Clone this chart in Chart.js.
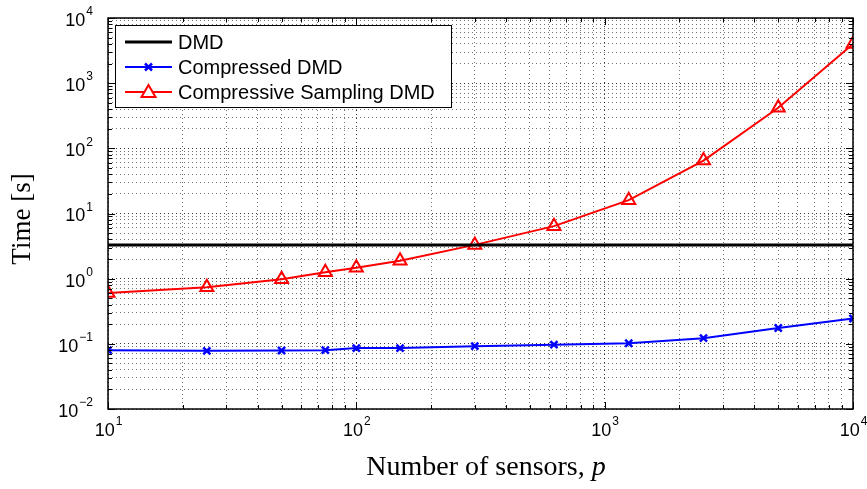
<!DOCTYPE html>
<html>
<head>
<meta charset="utf-8">
<script src="https://cdn.jsdelivr.net/npm/chart.js@4.4.0/dist/chart.umd.min.js"></script>
<style>
  html, body { margin: 0; padding: 0; background: #fff; }
  #wrap { width: 867px; height: 489px; }
</style>
</head>
<body>
<div id="wrap"><canvas id="chart"></canvas></div>
<script>
// data
const sensors = [10, 25, 50, 75, 100, 150, 300, 625, 1250, 2500, 5000, 10000];
const timeCompressed = [0.08, 0.078, 0.079, 0.08, 0.086, 0.086, 0.092, 0.097, 0.102, 0.122, 0.175, 0.245];
const timeCSDMD = [0.6, 0.74, 0.98, 1.25, 1.47, 1.88, 3.3, 6.4, 16, 65, 420, 4000];
const dmdTime = 3.3;
const xDecades = [1, 2, 3, 4];            // 10^1 .. 10^4
const yDecades = [-2, -1, 0, 1, 2, 3, 4]; // 10^-2 .. 10^4
const seriesLabels = ["DMD", "Compressed DMD", "Compressive Sampling DMD"];

function logTicks(decs) {
  var t = [];
  for (var i = 0; i < decs.length; i++) {
    var p = Math.pow(10, decs[i]);
    t.push({ value: p });
    if (i < decs.length - 1) {
      for (var m = 2; m <= 9; m++) t.push({ value: m * p });
    }
  }
  return t;
}
function isDecade(v) {
  var l = Math.log10(v);
  return Math.abs(l - Math.round(l)) < 1e-9;
}

const SANS = "'Liberation Sans', Arial, sans-serif";
const SERIF = "'Liberation Serif', 'Times New Roman', serif";

// draws "10" with raised exponent
function drawPow(ctx, exp, x, y, align) {
  ctx.font = "18px " + SANS;
  var wb = ctx.measureText("10").width;
  var es = String(exp).replace("-", "\u2212");
  ctx.font = "12px " + SANS;
  var we = ctx.measureText(es).width;
  var start = align === "right" ? x - wb - we - 1 : x - (wb + we) / 2;
  ctx.fillStyle = "#000";
  ctx.textBaseline = "middle";
  ctx.textAlign = "left";
  ctx.font = "18px " + SANS;
  ctx.fillText("10", start, y);
  ctx.font = "12px " + SANS;
  ctx.fillText(es, start + wb + 1, y - 9);
}

const matlabAxes = {
  id: "matlabAxes",
  afterDraw(chart) {
    const ctx = chart.ctx, a = chart.chartArea;
    const xs = chart.scales.x, ys = chart.scales.y;
    ctx.save();
    // box
    ctx.strokeStyle = "#000";
    ctx.lineWidth = 1.5;
    ctx.setLineDash([]);
    ctx.strokeRect(a.left, a.top, a.right - a.left, a.bottom - a.top);
    // inner tick marks
    ctx.lineWidth = 1;
    xs.ticks.forEach(function (t) {
      var px = Math.round(xs.getPixelForValue(t.value)) + 0.5;
      var len = isDecade(t.value) ? 7 : 4;
      ctx.beginPath();
      ctx.moveTo(px, a.bottom); ctx.lineTo(px, a.bottom - len);
      ctx.moveTo(px, a.top); ctx.lineTo(px, a.top + len);
      ctx.stroke();
    });
    ys.ticks.forEach(function (t) {
      var py = Math.round(ys.getPixelForValue(t.value)) + 0.5;
      var len = isDecade(t.value) ? 7 : 4;
      ctx.beginPath();
      ctx.moveTo(a.left, py); ctx.lineTo(a.left + len, py);
      ctx.moveTo(a.right, py); ctx.lineTo(a.right - len, py);
      ctx.stroke();
    });
    // tick labels
    xDecades.forEach(function (d) {
      drawPow(ctx, d, xs.getPixelForValue(Math.pow(10, d)), a.bottom + 22, "center");
    });
    yDecades.forEach(function (d) {
      drawPow(ctx, d, a.left - 15, ys.getPixelForValue(Math.pow(10, d)) + 3, "right");
    });
    // axis titles
    ctx.fillStyle = "#000";
    ctx.textBaseline = "middle";
    ctx.font = "28px " + SERIF;
    var t1 = "Number of sensors, ";
    var w1 = ctx.measureText(t1).width;
    ctx.font = "italic 28px " + SERIF;
    var w2 = ctx.measureText("p").width;
    var sx = 486 - (w1 + w2) / 2;
    ctx.textAlign = "left";
    ctx.font = "28px " + SERIF;
    ctx.fillText(t1, sx, 468);
    ctx.font = "italic 28px " + SERIF;
    ctx.fillText("p", sx + w1, 468);
    ctx.save();
    ctx.translate(23, 219);
    ctx.rotate(-Math.PI / 2);
    ctx.textAlign = "center";
    ctx.font = "27px " + SERIF;
    ctx.fillText("Time [s]", 0, 0);
    ctx.restore();
    // legend box
    var lx = 115, ly = 25, lw = 336, lh = 82;
    ctx.fillStyle = "#fff";
    ctx.fillRect(lx, ly, lw, lh);
    ctx.strokeStyle = "#000";
    ctx.lineWidth = 1;
    ctx.strokeRect(lx + 0.5, ly + 0.5, lw, lh);
    chart.data.datasets.forEach(function (ds, i) {
      var yy = ly + 17 + i * 25;
      ctx.strokeStyle = ds.borderColor;
      ctx.lineWidth = ds.borderWidth;
      ctx.beginPath();
      ctx.moveTo(lx + 10, yy); ctx.lineTo(lx + 57, yy);
      ctx.stroke();
      if (ds.pointStyle === "crossRot") {
        ctx.lineWidth = 2.5;
        ctx.beginPath();
        ctx.moveTo(lx + 30, yy - 3.5); ctx.lineTo(lx + 37, yy + 3.5);
        ctx.moveTo(lx + 37, yy - 3.5); ctx.lineTo(lx + 30, yy + 3.5);
        ctx.stroke();
      } else if (ds.pointStyle === "triangle") {
        ctx.lineWidth = 2;
        ctx.fillStyle = "#fff";
        ctx.beginPath();
        ctx.moveTo(lx + 33.5, yy - 7); ctx.lineTo(lx + 40.5, yy + 5); ctx.lineTo(lx + 26.5, yy + 5);
        ctx.closePath();
        ctx.fill();
        ctx.stroke();
      }
      ctx.fillStyle = "#000";
      ctx.font = "20px " + SANS;
      ctx.textAlign = "left";
      ctx.textBaseline = "middle";
      ctx.fillText(seriesLabels[i], lx + 63, yy + 1);
    });
    ctx.restore();
  }
};

const gridOpts = {
  color: function (c) { return c.tick && isDecade(c.tick.value) ? "rgba(0,0,0,0.8)" : "rgba(0,0,0,0.55)"; },
  lineWidth: 1,
  drawTicks: false,
  drawOnChartArea: true
};

new Chart(document.getElementById("chart"), {
  type: "scatter",
  data: {
    datasets: [
      {
        label: seriesLabels[0],
        data: [{ x: sensors[0], y: dmdTime }, { x: sensors[sensors.length - 1], y: dmdTime }],
        borderColor: "#000",
        borderWidth: 3,
        pointRadius: 0,
        showLine: true,
        pointStyle: false
      },
      {
        label: seriesLabels[1],
        data: sensors.map(function (s, i) { return { x: s, y: timeCompressed[i] }; }),
        borderColor: "#0000ff",
        backgroundColor: "#0000ff",
        borderWidth: 2,
        pointStyle: "crossRot",
        pointRadius: 5,
        pointBorderWidth: 2.5,
        showLine: true
      },
      {
        label: seriesLabels[2],
        data: sensors.map(function (s, i) { return { x: s, y: timeCSDMD[i] }; }),
        borderColor: "#ff0000",
        backgroundColor: "rgba(0,0,0,0)",
        borderWidth: 2,
        pointStyle: "triangle",
        pointRadius: 7.5,
        pointBorderWidth: 2,
        showLine: true
      }
    ]
  },
  options: {
    responsive: true,
    maintainAspectRatio: false,
    animation: false,
    layout: { padding: { left: 108, right: 14, top: 18, bottom: 80 } },
    plugins: { legend: { display: false }, tooltip: { enabled: false } },
    scales: {
      x: {
        type: "logarithmic",
        min: 10, max: 10000,
        afterBuildTicks: function (s) { s.ticks = logTicks(xDecades); },
        ticks: { display: false },
        grid: Object.assign({}, gridOpts),
        border: { display: false, dash: [1, 3] }
      },
      y: {
        type: "logarithmic",
        min: 0.01, max: 10000,
        afterBuildTicks: function (s) { s.ticks = logTicks(yDecades); },
        ticks: { display: false },
        grid: Object.assign({}, gridOpts),
        border: { display: false, dash: [1, 3] }
      }
    }
  },
  plugins: [matlabAxes]
});
</script>
</body>
</html>
